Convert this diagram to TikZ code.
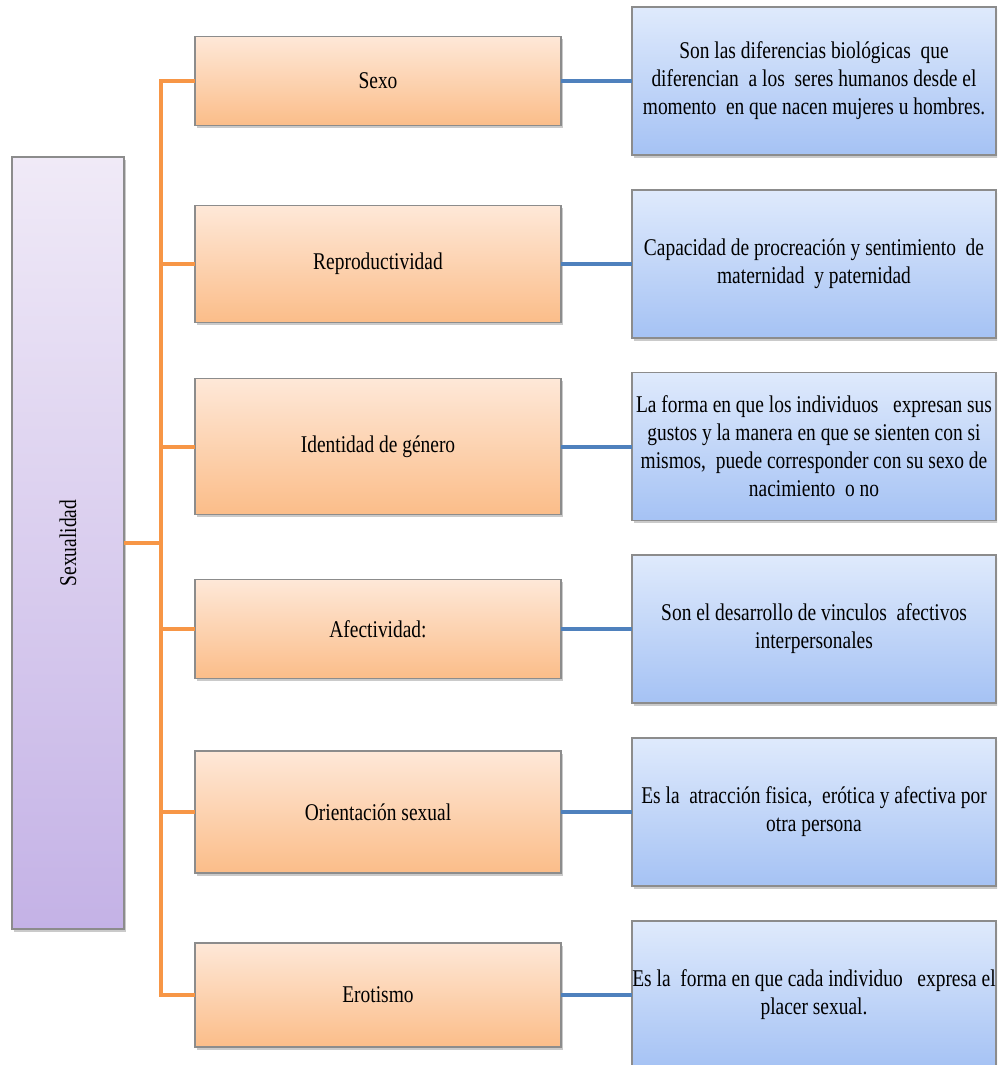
\documentclass[tikz,border=0pt]{standalone}
\usepackage{fontspec}
\setmainfont{Liberation Serif}[FakeStretch=0.81]
\usetikzlibrary{shadows}
\definecolor{orline}{HTML}{F79646}
\definecolor{blline}{HTML}{4F81BD}
\definecolor{ortop}{HTML}{FEE8D8}
\definecolor{orbot}{HTML}{FBBD89}
\definecolor{bltop}{HTML}{DFEAFC}
\definecolor{blbot}{HTML}{A5C2F4}
\definecolor{putop}{HTML}{F0EAF7}
\definecolor{pubot}{HTML}{C4B2E6}
\definecolor{edgegray}{HTML}{8C8C8C}
\tikzset{
  basebox/.style={draw=edgegray, line width=1.2pt, inner sep=0pt, outer sep=0pt,
    align=center, font=\fontsize{24}{28}\selectfont,
    drop shadow={shadow xshift=1.5pt, shadow yshift=-2.5pt, opacity=0.35, fill=black!60}},
  orbox/.style={basebox, top color=ortop, bottom color=orbot, minimum width=366pt},
  blbox/.style={basebox, top color=bltop, bottom color=blbot, minimum width=364pt, minimum height=148pt},
  pubox/.style={basebox, top color=putop, bottom color=pubot, minimum width=112pt, minimum height=772pt},
  orl/.style={draw=orline, line width=4pt},
  bll/.style={draw=blline, line width=4pt},
}
\begin{document}
\begin{tikzpicture}[x=1pt,y=-1pt]
\useasboundingbox (0,0) rectangle (997,1065);
\clip (0,0) rectangle (997,1065);
% left box
\node[pubox] (s) at (68,543) {};
\node[rotate=90, font=\fontsize{24}{28}\selectfont] (st) at (68,543) {Sexualidad};
% orange boxes
\node[orbox, minimum height=89pt]  (o1) at (378,81) {Sexo};
\node[orbox, minimum height=117pt] (o2) at (378,264) {Reproductividad};
\node[orbox, minimum height=136pt] (o3) at (378,446.5) {Identidad de género};
\node[orbox, minimum height=99pt]  (o4) at (378,629) {Afectividad:};
\node[orbox, minimum height=122pt] (o5) at (378,812) {Orientación sexual};
\node[orbox, minimum height=104pt] (o6) at (378,995) {Erotismo};
% blue boxes
\node[blbox] (b1) at (814,81) {Son las diferencias biológicas~ que\\diferencian~ a los~ seres humanos desde el\\momento~ en que nacen mujeres u hombres.};
\node[blbox] (b2) at (814,264) {Capacidad de procreación y sentimiento~ de\\maternidad~ y paternidad};
\node[blbox] (b3) at (814,446.5) {La forma en que los individuos~~ expresan sus\\gustos y la manera en que se sienten con si\\mismos,~ puede corresponder con su sexo de\\nacimiento~ o no};
\node[blbox] (b4) at (814,629) {Son el desarrollo de vinculos~ afectivos\\interpersonales};
\node[blbox] (b5) at (814,812) {Es la~ atracción fisica,~ erótica y afectiva por\\otra persona};
\node[blbox] (b6) at (814,995) {Es la~ forma en que cada individuo~~ expresa el\\placer sexual.};
% orange bracket
\coordinate (jn) at (161,543);
\draw[orl] (s.east) -- (jn);
\foreach \i in {1,...,6} { \draw[orl] (jn) |- (o\i.west); }
% blue connectors
\foreach \i in {1,...,6} { \draw[bll] (o\i.east) -- (o\i.east -| b\i.west); }
\end{tikzpicture}
\end{document}
